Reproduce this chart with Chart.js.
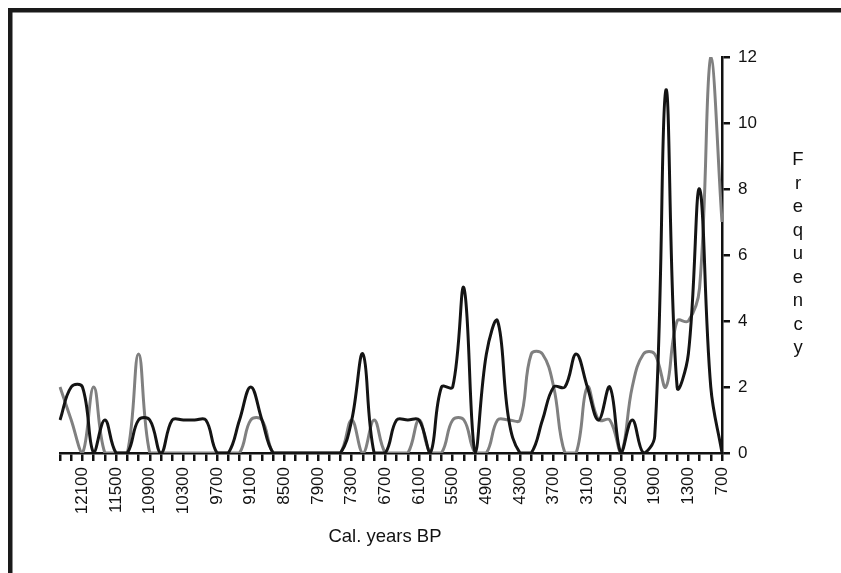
<!DOCTYPE html>
<html>
<head>
<meta charset="utf-8">
<title>Frequency by calibrated age</title>
<script src="https://cdn.jsdelivr.net/npm/chart.js@4.4.1/dist/chart.umd.min.js"></script>
<style>
  html, body { margin: 0; padding: 0; background: #ffffff; }
  canvas { display: block; }
</style>
</head>
<body>
<canvas id="chart" width="841" height="573"></canvas>
<script>
// Calibrated ages (years BP), one category every 200 years
const years = [
  12500, 12300, 12100, 11900, 11700, 11500, 11300, 11100, 10900, 10700,
  10500, 10300, 10100, 9900, 9700, 9500, 9300, 9100, 8900, 8700,
  8500, 8300, 8100, 7900, 7700, 7500, 7300, 7100, 6900, 6700,
  6500, 6300, 6100, 5900, 5700, 5500, 5300, 5100, 4900, 4700,
  4500, 4300, 4100, 3900, 3700, 3500, 3300, 3100, 2900, 2700,
  2500, 2300, 2100, 1900, 1700, 1500, 1300, 1100, 900, 700
];

// Ages that get a printed label on the horizontal axis
const tickLabels = [
  '12100', '11500', '10900', '10300', '9700', '9100', '8500', '7900', '7300', '6700',
  '6100', '5500', '4900', '4300', '3700', '3100', '2500', '1900', '1300', '700'
];

// Frequency, black series
const seriesBlack = [
  1, 2, 2, 0, 1, 0, 0, 1, 1, 0,
  1, 1, 1, 1, 0, 0, 1, 2, 1, 0,
  0, 0, 0, 0, 0, 0, 1, 3, 0, 0,
  1, 1, 1, 0, 2, 2, 5, 0, 3, 4,
  1, 0, 0, 1, 2, 2, 3, 2, 1, 2,
  0, 1, 0, 0.5, 11, 2, 3, 8, 2, 0
];

// Frequency, grey series
const seriesGray = [
  2, 1, 0, 2, 0, 0, 0, 3, 0, 0,
  0, 0, 0, 0, 0, 0, 0, 1, 1, 0,
  0, 0, 0, 0, 0, 0, 1, 0, 1, 0,
  0, 0, 1, 0, 0, 1, 1, 0, 0, 1,
  1, 1, 3, 3, 2, 0, 0, 2, 1, 1,
  0, 2, 3, 3, 2, 4, 4, 5, 12, 7
];

const yMin = 0;
const yMax = 12;
const yStep = 2;

const xTitle = 'Cal. years BP';
const yTitle = 'Frequency';

const FONT_FAMILY = '"Liberation Sans", Arial, Helvetica, sans-serif';
const INK = '#111111';

// Thick frame along the top and left edges of the figure
const framePlugin = {
  id: 'frame',
  beforeDraw(chart) {
    const ctx = chart.ctx;
    ctx.save();
    ctx.fillStyle = '#1a1a1a';
    ctx.fillRect(8, 8, chart.width - 8, 4.5);
    ctx.fillRect(8, 8, 4.5, chart.height - 8);
    ctx.restore();
  }
};

// Axis titles: horizontal caption below the ages, stacked letters beside the right axis
const axisTitlePlugin = {
  id: 'axisTitles',
  afterDraw(chart) {
    const ctx = chart.ctx;
    const area = chart.chartArea;
    ctx.save();
    ctx.fillStyle = INK;
    ctx.font = '18.5px ' + FONT_FAMILY;
    ctx.textAlign = 'center';
    ctx.textBaseline = 'alphabetic';
    ctx.fillText(xTitle, area.left + 325, area.bottom + 89);
    Array.from(yTitle).forEach((ch, k) => {
      ctx.fillText(ch, area.right + 76, area.top + 108 + 23.5 * k);
    });
    ctx.restore();
  }
};

new Chart(document.getElementById('chart'), {
  type: 'line',
  data: {
    labels: years.map(String),
    datasets: [
      {
        label: 'black',
        data: seriesBlack,
        borderColor: '#141414',
        borderWidth: 3,
        pointRadius: 0,
        tension: 0.4,
        fill: false
      },
      {
        label: 'grey',
        data: seriesGray,
        borderColor: '#808080',
        borderWidth: 3,
        pointRadius: 0,
        tension: 0.4,
        fill: false
      }
    ]
  },
  options: {
    responsive: false,
    animation: false,
    devicePixelRatio: 1,
    layout: { padding: { left: 60, top: 57, right: 0, bottom: 0 } },
    plugins: {
      legend: { display: false },
      title: { display: false },
      tooltip: { enabled: false }
    },
    scales: {
      x: {
        type: 'category',
        offset: false,
        afterFit(scale) { scale.height = 120; },
        grid: {
          offset: false,
          drawOnChartArea: false,
          drawTicks: true,
          tickLength: 8,
          lineWidth: 2.5,
          color: INK
        },
        border: { display: true, color: INK, width: 2.5 },
        ticks: {
          autoSkip: false,
          minRotation: 90,
          maxRotation: 90,
          padding: 6,
          color: INK,
          font: { family: FONT_FAMILY, size: 17 },
          callback(value) {
            const lab = this.getLabelForValue(value);
            return tickLabels.includes(lab) ? lab : '';
          }
        }
      },
      y: {
        position: 'right',
        min: yMin,
        max: yMax,
        afterFit(scale) { scale.width = 119; },
        grid: {
          drawOnChartArea: false,
          drawTicks: true,
          tickLength: 8,
          lineWidth: 2.5,
          color: INK
        },
        border: { display: true, color: INK, width: 2.5 },
        ticks: {
          stepSize: yStep,
          padding: 8,
          color: INK,
          font: { family: FONT_FAMILY, size: 17 }
        }
      }
    }
  },
  plugins: [framePlugin, axisTitlePlugin]
});
</script>
</body>
</html>
